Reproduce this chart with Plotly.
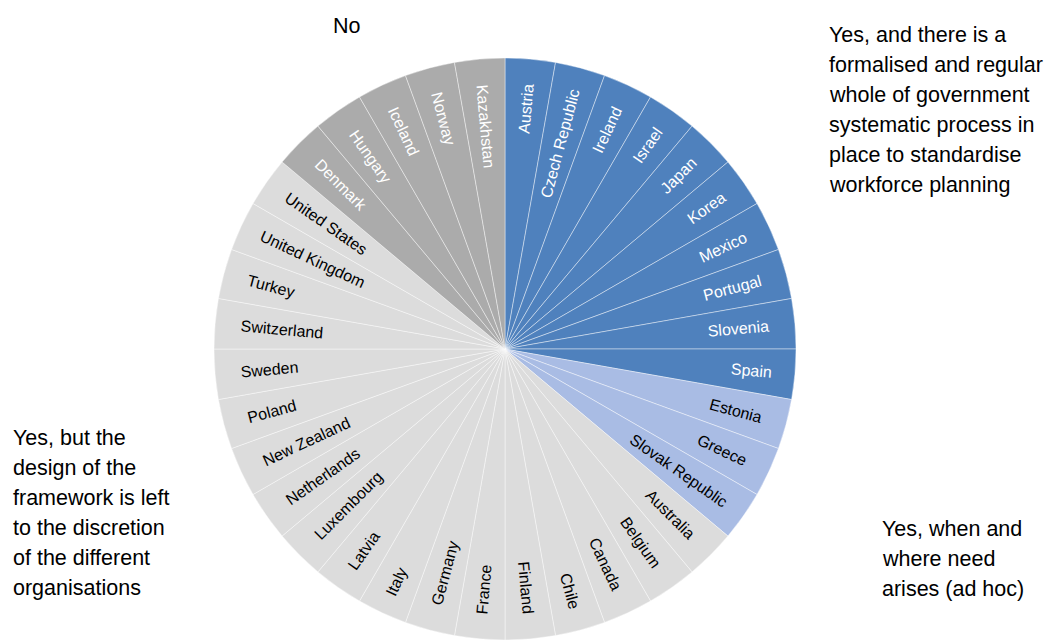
import plotly.graph_objects as go

countries = [
    "Austria", "Czech Republic", "Ireland", "Israel", "Japan", "Korea", "Mexico",
    "Portugal", "Slovenia", "Spain",
    "Estonia", "Greece", "Slovak Republic",
    "Australia", "Belgium", "Canada", "Chile", "Finland", "France", "Germany",
    "Italy", "Latvia", "Luxembourg", "Netherlands", "New Zealand", "Poland",
    "Sweden", "Switzerland", "Turkey", "United Kingdom", "United States",
    "Denmark", "Hungary", "Iceland", "Norway", "Kazakhstan",
]
categories = (
    ["formalised"] * 10 + ["adhoc"] * 3 + ["discretion"] * 18 + ["no"] * 5
)
values = [1] * len(countries)

cat_colors = {
    "formalised": "#4F81BD",
    "adhoc": "#A9BCE4",
    "discretion": "#DCDCDC",
    "no": "#ABABAB",
}
cat_text = {
    "formalised": "white",
    "adhoc": "black",
    "discretion": "black",
    "no": "white",
}

# category caption lines, with left x and first-line centre y (pixels)
category_labels = [
    (["No"], 331, 26),
    (["Yes, and there is a", "formalised and regular", "whole of government",
      "systematic process in", "place to standardise", "workforce planning"], 827, 35),
    (["Yes, but the", "design of the", "framework is left", "to the discretion",
      "of the different", "organisations"], 11, 438),
    (["Yes, when and", "where need", "arises (ad hoc)"], 880, 529),
]
LINE_GAP = 30

W, H = 1046, 644

fig = go.Figure(go.Pie(
    labels=countries,
    values=values,
    text=countries,
    textinfo="text",
    sort=False,
    direction="clockwise",
    rotation=0,
    textposition="inside",
    insidetextorientation="radial",
    marker=dict(colors=[cat_colors[c] for c in categories],
                line=dict(color="rgba(255,255,255,0.6)", width=0.7)),
    insidetextfont=dict(family="Liberation Sans, Arial, sans-serif", size=16,
                        color=[cat_text[c] for c in categories]),
    showlegend=False,
    hoverinfo="label",
    domain=dict(x=[214 / W, 796 / W], y=[4 / H, 586 / H]),
))

ann_font = dict(family="Liberation Sans, Arial, sans-serif", size=21.5, color="black")
for lines, x, y0 in category_labels:
    for i, line in enumerate(lines):
        fig.add_annotation(
            x=x / W, y=1 - (y0 + i * LINE_GAP) / H, xref="paper", yref="paper",
            xanchor="left", yanchor="middle", align="left", text=line,
            showarrow=False, font=ann_font,
        )

fig.update_layout(
    width=W, height=H,
    margin=dict(l=0, r=0, t=0, b=0),
    paper_bgcolor="white", plot_bgcolor="white",
)
fig.write_html("out.html")
